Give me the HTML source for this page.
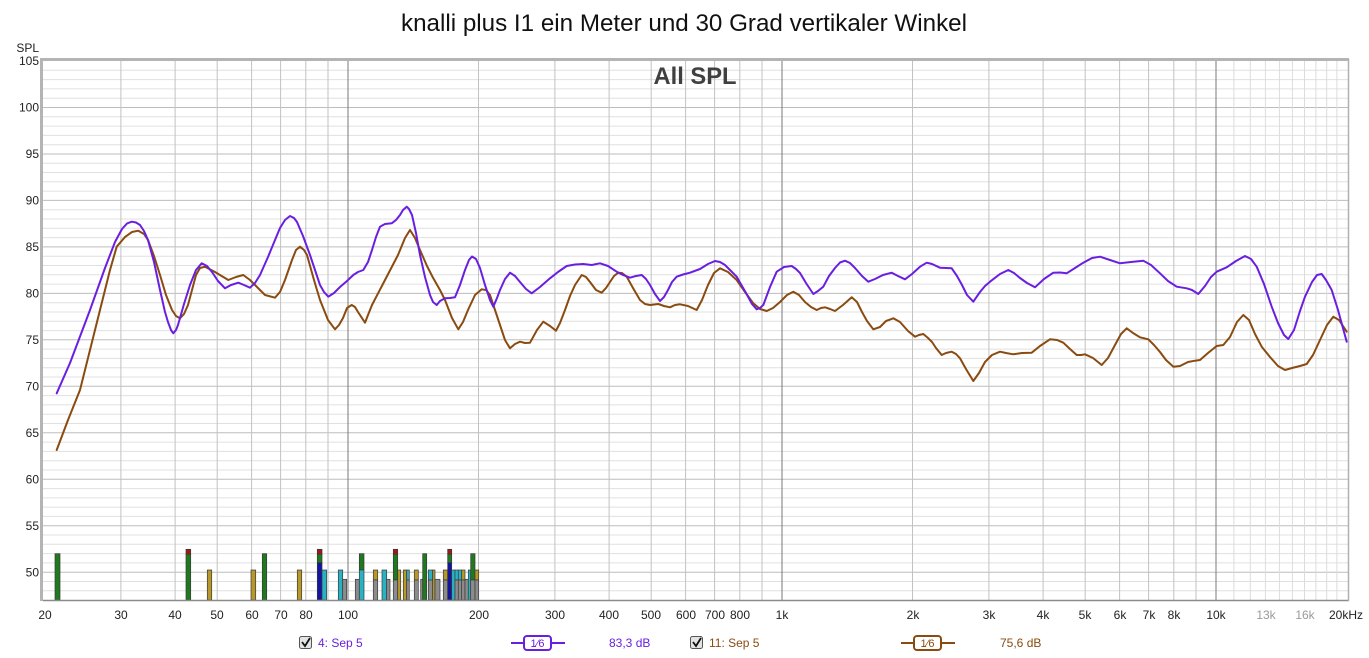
<!DOCTYPE html>
<html><head><meta charset="utf-8"><style>
html,body{margin:0;padding:0;background:#fff;}
svg{display:block;font-family:"Liberation Sans",Arial,sans-serif;}
</style></head><body>
<svg width="1369" height="658" viewBox="0 0 1369 658" xmlns="http://www.w3.org/2000/svg">
<rect x="0" y="0" width="1369" height="658" fill="#fff"/>
<text x="684" y="31" font-size="24" text-anchor="middle" fill="#111" textLength="566" lengthAdjust="spacingAndGlyphs">knalli plus I1 ein Meter und 30 Grad vertikaler Winkel</text>
<rect x="43" y="61" width="1305" height="539" fill="#fff"/>
<g stroke="#e0e0e0" stroke-width="1">
<line x1="43" x2="1348" y1="70.3" y2="70.3"/><line x1="43" x2="1348" y1="79.6" y2="79.6"/><line x1="43" x2="1348" y1="88.9" y2="88.9"/><line x1="43" x2="1348" y1="98.2" y2="98.2"/>
<line x1="43" x2="1348" y1="116.8" y2="116.8"/><line x1="43" x2="1348" y1="126.1" y2="126.1"/><line x1="43" x2="1348" y1="135.4" y2="135.4"/><line x1="43" x2="1348" y1="144.7" y2="144.7"/>
<line x1="43" x2="1348" y1="163.3" y2="163.3"/><line x1="43" x2="1348" y1="172.5" y2="172.5"/><line x1="43" x2="1348" y1="181.8" y2="181.8"/><line x1="43" x2="1348" y1="191.1" y2="191.1"/>
<line x1="43" x2="1348" y1="209.7" y2="209.7"/><line x1="43" x2="1348" y1="219.0" y2="219.0"/><line x1="43" x2="1348" y1="228.3" y2="228.3"/><line x1="43" x2="1348" y1="237.6" y2="237.6"/>
<line x1="43" x2="1348" y1="256.2" y2="256.2"/><line x1="43" x2="1348" y1="265.5" y2="265.5"/><line x1="43" x2="1348" y1="274.8" y2="274.8"/><line x1="43" x2="1348" y1="284.1" y2="284.1"/>
<line x1="43" x2="1348" y1="302.7" y2="302.7"/><line x1="43" x2="1348" y1="312.0" y2="312.0"/><line x1="43" x2="1348" y1="321.3" y2="321.3"/><line x1="43" x2="1348" y1="330.6" y2="330.6"/>
<line x1="43" x2="1348" y1="349.1" y2="349.1"/><line x1="43" x2="1348" y1="358.4" y2="358.4"/><line x1="43" x2="1348" y1="367.7" y2="367.7"/><line x1="43" x2="1348" y1="377.0" y2="377.0"/>
<line x1="43" x2="1348" y1="395.6" y2="395.6"/><line x1="43" x2="1348" y1="404.9" y2="404.9"/><line x1="43" x2="1348" y1="414.2" y2="414.2"/><line x1="43" x2="1348" y1="423.5" y2="423.5"/>
<line x1="43" x2="1348" y1="442.1" y2="442.1"/><line x1="43" x2="1348" y1="451.4" y2="451.4"/><line x1="43" x2="1348" y1="460.7" y2="460.7"/><line x1="43" x2="1348" y1="470.0" y2="470.0"/>
<line x1="43" x2="1348" y1="488.6" y2="488.6"/><line x1="43" x2="1348" y1="497.9" y2="497.9"/><line x1="43" x2="1348" y1="507.1" y2="507.1"/><line x1="43" x2="1348" y1="516.4" y2="516.4"/>
<line x1="43" x2="1348" y1="535.0" y2="535.0"/><line x1="43" x2="1348" y1="544.3" y2="544.3"/><line x1="43" x2="1348" y1="553.6" y2="553.6"/><line x1="43" x2="1348" y1="562.9" y2="562.9"/>
<line x1="43" x2="1348" y1="581.5" y2="581.5"/><line x1="43" x2="1348" y1="590.8" y2="590.8"/>
</g>
<g stroke="#bdbdbd" stroke-width="1">
<line x1="43" x2="1348" y1="107.5" y2="107.5"/><line x1="43" x2="1348" y1="154.0" y2="154.0"/><line x1="43" x2="1348" y1="200.4" y2="200.4"/><line x1="43" x2="1348" y1="246.9" y2="246.9"/><line x1="43" x2="1348" y1="293.4" y2="293.4"/><line x1="43" x2="1348" y1="339.8" y2="339.8"/><line x1="43" x2="1348" y1="386.3" y2="386.3"/><line x1="43" x2="1348" y1="432.8" y2="432.8"/><line x1="43" x2="1348" y1="479.3" y2="479.3"/><line x1="43" x2="1348" y1="525.7" y2="525.7"/><line x1="43" x2="1348" y1="572.2" y2="572.2"/>
</g>
<g stroke="#c2c2c2" stroke-width="1">
<line x1="120.9" x2="120.9" y1="61" y2="600"/><line x1="175.1" x2="175.1" y1="61" y2="600"/><line x1="217.2" x2="217.2" y1="61" y2="600"/><line x1="251.6" x2="251.6" y1="61" y2="600"/><line x1="280.6" x2="280.6" y1="61" y2="600"/><line x1="305.8" x2="305.8" y1="61" y2="600"/><line x1="328.0" x2="328.0" y1="61" y2="600"/>
<line x1="478.5" x2="478.5" y1="61" y2="600"/><line x1="554.9" x2="554.9" y1="61" y2="600"/><line x1="609.1" x2="609.1" y1="61" y2="600"/><line x1="651.2" x2="651.2" y1="61" y2="600"/><line x1="685.6" x2="685.6" y1="61" y2="600"/><line x1="714.6" x2="714.6" y1="61" y2="600"/><line x1="739.8" x2="739.8" y1="61" y2="600"/><line x1="762.0" x2="762.0" y1="61" y2="600"/>
<line x1="912.5" x2="912.5" y1="61" y2="600"/><line x1="988.9" x2="988.9" y1="61" y2="600"/><line x1="1043.1" x2="1043.1" y1="61" y2="600"/><line x1="1085.2" x2="1085.2" y1="61" y2="600"/><line x1="1119.6" x2="1119.6" y1="61" y2="600"/><line x1="1148.6" x2="1148.6" y1="61" y2="600"/><line x1="1173.8" x2="1173.8" y1="61" y2="600"/><line x1="1196.0" x2="1196.0" y1="61" y2="600"/>
</g>
<g stroke="#dcdcdc" stroke-width="1">
<line x1="1233.9" x2="1233.9" y1="61" y2="600"/><line x1="1250.3" x2="1250.3" y1="61" y2="600"/><line x1="1265.4" x2="1265.4" y1="61" y2="600"/><line x1="1279.4" x2="1279.4" y1="61" y2="600"/><line x1="1292.4" x2="1292.4" y1="61" y2="600"/><line x1="1304.5" x2="1304.5" y1="61" y2="600"/><line x1="1315.9" x2="1315.9" y1="61" y2="600"/><line x1="1326.7" x2="1326.7" y1="61" y2="600"/><line x1="1336.9" x2="1336.9" y1="61" y2="600"/>
</g>
<g stroke="#7a7a7a" stroke-width="1">
<line x1="348" x2="348" y1="61" y2="600"/><line x1="782" x2="782" y1="61" y2="600"/><line x1="1216" x2="1216" y1="61" y2="600"/>
</g>
<text x="695" y="84" font-size="24" font-weight="bold" text-anchor="middle" fill="#404040" textLength="83" lengthAdjust="spacingAndGlyphs">All SPL</text>
<!-- bars -->
<g stroke="#3a3a3a" stroke-width="0.7">
<rect x="55" y="553.7" width="5" height="46.3" fill="#1f7a1f"/>
<rect x="186" y="549.3" width="4.7" height="5" fill="#a01818"/><rect x="186" y="554.3" width="4.7" height="45.7" fill="#1f7a1f"/>
<rect x="207.3" y="570" width="4.4" height="30" fill="#b8982a"/>
<rect x="251" y="570" width="4.7" height="30" fill="#b8982a"/>
<rect x="262.3" y="553.7" width="4.4" height="46.3" fill="#1f7a1f"/>
<rect x="297.3" y="570" width="4.4" height="30" fill="#b8982a"/>
<rect x="317.3" y="549.3" width="4.7" height="5" fill="#a01818"/><rect x="317.3" y="554.3" width="4.7" height="8.4" fill="#1f7a1f"/><rect x="317.3" y="562.7" width="4.7" height="37.3" fill="#1414a0"/>
<rect x="322" y="570" width="4.7" height="30" fill="#2ab2c2"/>
<rect x="338.3" y="570" width="4.4" height="30" fill="#2ab2c2"/>
<rect x="342.7" y="579.3" width="4" height="20.7" fill="#8c8c8c"/>
<rect x="355.3" y="579.3" width="4" height="20.7" fill="#8c8c8c"/>
<rect x="359.3" y="553.7" width="4.7" height="16.3" fill="#1f7a1f"/><rect x="359.3" y="570" width="4.7" height="30" fill="#2ab2c2"/>
<rect x="373.3" y="570" width="4.4" height="10" fill="#b8982a"/><rect x="373.3" y="580" width="4.4" height="20" fill="#8c8c8c"/>
<rect x="382" y="570" width="4.7" height="30" fill="#2ab2c2"/>
<rect x="386.7" y="579.3" width="3.3" height="20.7" fill="#8c8c8c"/>
<rect x="393.3" y="549.3" width="4.4" height="5" fill="#a01818"/><rect x="393.3" y="554.3" width="4.4" height="25.7" fill="#1f7a1f"/><rect x="393.3" y="580" width="4.4" height="20" fill="#8c8c8c"/>
<rect x="397.7" y="570" width="3" height="30" fill="#b8982a"/>
<rect x="403.3" y="570" width="3.4" height="30" fill="#b8982a"/>
<rect x="406.7" y="570" width="2.6" height="10" fill="#2ab2c2"/><rect x="406.7" y="580" width="2.6" height="20" fill="#8c8c8c"/>
<rect x="414.3" y="570" width="4" height="10" fill="#b8982a"/><rect x="414.3" y="580" width="4" height="20" fill="#8c8c8c"/>
<rect x="420.7" y="579.3" width="2" height="20.7" fill="#8c8c8c"/>
<rect x="422.7" y="553.7" width="4" height="46.3" fill="#1f7a1f"/>
<rect x="428.3" y="570" width="4.4" height="10" fill="#2ab2c2"/><rect x="428.3" y="580" width="4.4" height="20" fill="#8c8c8c"/>
<rect x="432.7" y="570" width="2.3" height="30" fill="#b8982a"/>
<rect x="435" y="579.3" width="5" height="20.7" fill="#8c8c8c"/>
<rect x="443.3" y="570" width="4.4" height="10" fill="#b8982a"/><rect x="443.3" y="580" width="4.4" height="20" fill="#8c8c8c"/>
<rect x="447.7" y="549.3" width="4" height="5" fill="#a01818"/><rect x="447.7" y="554.3" width="4" height="8.4" fill="#1f7a1f"/><rect x="447.7" y="562.7" width="4" height="37.3" fill="#1414a0"/>
<rect x="451.7" y="570" width="3.3" height="30" fill="#2ab2c2"/>
<rect x="455" y="570" width="3.3" height="10" fill="#2ab2c2"/><rect x="455" y="580" width="3.3" height="20" fill="#8c8c8c"/>
<rect x="458.3" y="570" width="3.4" height="10" fill="#2ab2c2"/><rect x="458.3" y="580" width="3.4" height="20" fill="#8c8c8c"/>
<rect x="461.7" y="570" width="3.3" height="10" fill="#b8982a"/><rect x="461.7" y="580" width="3.3" height="20" fill="#8c8c8c"/>
<rect x="465" y="579.3" width="3.3" height="20.7" fill="#8c8c8c"/>
<rect x="468.3" y="570" width="2.4" height="30" fill="#2ab2c2"/>
<rect x="470.7" y="553.7" width="4.3" height="26.3" fill="#1f7a1f"/><rect x="470.7" y="580" width="4.3" height="20" fill="#8c8c8c"/>
<rect x="475" y="570" width="3.7" height="10" fill="#b8982a"/><rect x="475" y="580" width="3.7" height="20" fill="#8c8c8c"/>
</g>
<!-- curves -->
<polyline fill="none" stroke="#8a4b10" stroke-width="2" stroke-linejoin="round" stroke-linecap="round" points="56.7,450 68,420 80,390 95,330 110,270 116.7,246.7 125,237 132,232 138.3,230.7 144,234 148,240 154,256 160,275 166,295 172,310 176,316 180,318.3 184,314 188,305 196,275 200,268 205,266.7 215,272 228.3,280 236,277 243.3,275 250,280 255,285 265,295 275,297.7 280,292 285,280 292,260 296,250 300,246.7 304,250 307,255 314,280 320,300 328,320 335,329.3 339,325 343,318 347,308 351.7,305 355,307 358,312 365,322.7 368,315 372,305 385,280 398,255 405,238 410,230 415,238 420,250 427,266 433.3,278.3 440,290 445,300 452,318 458.3,329.3 463,322 468,310 475,295 481.7,289.3 486,290 490,295 495,310 500,325 505,340 510,348.3 515,344 520,341.7 525,343 530,342.7 537,330 543.3,321.7 550,326 556,330.7 560,323 565,310 570,296 575,285 581.7,275 586,277 590,282 596,290 601.7,292.7 606,288 610,282 614,276 618.3,272.7 622,273 626.7,276.7 633,288 640,300 645,304 650,305 658.3,304 664,306 670,307.3 675,305 680,304.3 688,306 696.7,310 702,300 708,285 714,273 720,268.3 728,272 736.7,280 745,292 753.3,303.3 760,309 766.7,311 773,308 780,302 787,295 793.3,291.7 799,295 805,302 811,307 816.7,310 821,308 825,307.3 830,309 835,311 843,305 851.7,297.3 857,302 862,312 867,321 873.3,329.3 880,327 886,321 893.3,318.3 900,322 908,331 915,336.7 919,335 923.3,334 928,338 932,342 936,348 941.7,355 946,353 951.7,351.7 956,354 960,358.3 966,369 973.3,381 979,373 985,362 992,355 1000,351.7 1006,353 1013.3,354.3 1022,353 1031.7,352.7 1040,346 1050,339.3 1057,340 1063.3,342.7 1070,349 1076.7,355 1081,355 1085,354.3 1093,358 1101.7,365 1108,358 1115,345 1121,334 1126.7,328.3 1133,333 1140,337.3 1148.3,339.3 1154,345 1160,352 1166,360 1173.3,366.7 1180,366 1188,362 1195,360.7 1200,360 1208,353 1216.7,346 1223.3,345 1230,337 1237,322 1243.3,315 1249,320 1255,334 1261.7,346.7 1270,357 1278,366 1285,370 1292,368 1300,366 1306.7,364 1313,355 1320,340 1327,325 1333.3,316.7 1339,320 1346.7,331.7"/>
<polyline fill="none" stroke="#6a1fe0" stroke-width="2" stroke-linejoin="round" stroke-linecap="round" points="56.7,393.3 70,363 90,310 105,268 115,242 122,229 127,223.5 131.7,221.7 136,222.5 140,225 144,231 148,240 154,262 160,290 165,312 168,322 171,330 173.3,333.3 176,330 178,325 184,304 190,285 196,270 201.7,263.3 207,266 212,272 218,281 225,288.3 231,285 238.3,282.7 244,285 250,287.7 255,283 260,275 268,257 275,240 280,228 285,220 290,216 294,218 297,222 303,236 310,255 315,270 320,285 324,292 328.3,296.7 334,293 340,287 347,281 353.3,275 358,272 363.3,270 368,262 372,250 376,237 380,226.7 385,224 391.7,223.3 396,220 400,215 403,210 406.7,206.7 409,209 412,215 416,233 420,255 425,277 430,295 433,302 436.7,305 440,301 445,298.3 450,298 455,297.3 460,285 465,270 469,260 472,256.5 476,259 480,268 485,285 490,300 493.3,306.7 497,298 500,290 505,279 510,272.7 515,276 520,282 526,289 531.7,293.3 540,287 550,278.3 558,272 566.7,266 575,264.5 583.3,264 591.7,265 600,263.3 608,266 616.7,271.7 623,275 630,277.7 636,276 641.7,275 646,279 650,285 655,294 660,301 664,297 668,290 672,282 676.7,276.7 683,274.5 690,272.7 700,269 708,264 715,261 720,262 725,265 730,270 736.7,276.7 746,293 752,304 756.7,309.3 760,308 763.3,305 770,287 776.7,271.7 784,267 791.7,266 796,269 800,273 806,283 813.3,294 818,291 823.3,286.7 829,276 835,268 840,262.5 845,260.7 850,263 855,268 862,276 868.3,281.7 875,279 883,275 891.7,272.7 898,276 905,279.3 912,274 920,266.7 926.7,262.7 932,264 940,267.7 946,268 951.7,268.3 957,276 962,285 967,295 973.3,301.7 980,292 985,286 990,281.7 1000,274 1008.3,270 1014,273 1020,278 1027,283 1035,287.3 1044,279 1053.3,272.7 1060,272.5 1066.7,273.3 1075,268 1083.3,262.7 1092,258 1100,256.7 1110,260 1120,263.3 1131,262 1143.3,260.7 1151,265 1160,273.3 1168,281 1176.7,286.7 1186.7,288.3 1192,290 1198.3,294 1205,286 1211,277 1216.7,271.7 1226.7,267.3 1236,261 1245,256 1251,259 1256.7,266.7 1264,284 1271.7,306.7 1278,323 1284,335 1288.3,339 1294,330 1300,311 1305,296.7 1312,282 1317,275 1321.7,274 1326,280 1331.7,290 1338,310 1346.7,341.7"/>
<!-- frame -->
<line x1="41.5" y1="58" x2="41.5" y2="601" stroke="#b4b4b4" stroke-width="3"/>
<line x1="40" y1="59.5" x2="1349" y2="59.5" stroke="#b4b4b4" stroke-width="3"/>
<line x1="43" y1="600.5" x2="1349" y2="600.5" stroke="#8a8a8a" stroke-width="1.5"/>
<line x1="1348.5" y1="59" x2="1348.5" y2="601" stroke="#b0b0b0" stroke-width="1.5"/>
<!-- y labels -->
<g font-size="12" fill="#222" text-anchor="end">
<text x="39" y="52">SPL</text>
<text x="39" y="65">105</text><text x="39" y="111.5">100</text><text x="39" y="158">95</text><text x="39" y="204.5">90</text><text x="39" y="251">85</text><text x="39" y="297.5">80</text><text x="39" y="344">75</text><text x="39" y="390.5">70</text><text x="39" y="437">65</text><text x="39" y="483.5">60</text><text x="39" y="530">55</text><text x="39" y="576.5">50</text>
</g>
<!-- x labels -->
<g font-size="12" fill="#222" text-anchor="middle">
<text x="45" y="619">20</text><text x="121" y="619">30</text><text x="175" y="619">40</text><text x="217" y="619">50</text><text x="252" y="619">60</text><text x="281" y="619">70</text><text x="306" y="619">80</text><text x="348" y="619">100</text><text x="479" y="619">200</text><text x="555" y="619">300</text><text x="609" y="619">400</text><text x="651" y="619">500</text><text x="686" y="619">600</text><text x="715" y="619">700</text><text x="740" y="619">800</text><text x="782" y="619">1k</text><text x="913" y="619">2k</text><text x="989" y="619">3k</text><text x="1043" y="619">4k</text><text x="1085" y="619">5k</text><text x="1120" y="619">6k</text><text x="1149" y="619">7k</text><text x="1174" y="619">8k</text><text x="1216" y="619">10k</text>
<text x="1266" y="619" fill="#9a9a9a">13k</text><text x="1305" y="619" fill="#9a9a9a">16k</text><text x="1346" y="619">20kHz</text>
</g>
<!-- legend -->
<g font-size="12">
<rect x="299.5" y="636.5" width="12" height="12" rx="2" fill="#e4e4e4" stroke="#555" stroke-width="1"/>
<path d="M302 642 L305 646 L310 638" fill="none" stroke="#111" stroke-width="1.8"/>
<text x="318" y="647" fill="#6a1fe0">4: Sep 5</text>
<line x1="511" y1="643" x2="565" y2="643" stroke="#6a1fe0" stroke-width="2"/>
<rect x="524" y="636" width="27" height="14" rx="3" fill="#fff" stroke="#6a1fe0" stroke-width="2"/>
<text x="537.5" y="647" fill="#6a1fe0" font-size="11" text-anchor="middle">1⁄6</text>
<text x="609" y="647" fill="#6a1fe0">83,3 dB</text>
<rect x="690.5" y="636.5" width="12" height="12" rx="2" fill="#e4e4e4" stroke="#555" stroke-width="1"/>
<path d="M693 642 L696 646 L701 638" fill="none" stroke="#111" stroke-width="1.8"/>
<text x="709" y="647" fill="#8a4b10">11: Sep 5</text>
<line x1="901" y1="643" x2="955" y2="643" stroke="#8a4b10" stroke-width="2"/>
<rect x="914" y="636" width="27" height="14" rx="3" fill="#fff" stroke="#8a4b10" stroke-width="2"/>
<text x="927.5" y="647" fill="#8a4b10" font-size="11" text-anchor="middle">1⁄6</text>
<text x="1000" y="647" fill="#8a4b10">75,6 dB</text>
</g>
</svg>
</body></html>
